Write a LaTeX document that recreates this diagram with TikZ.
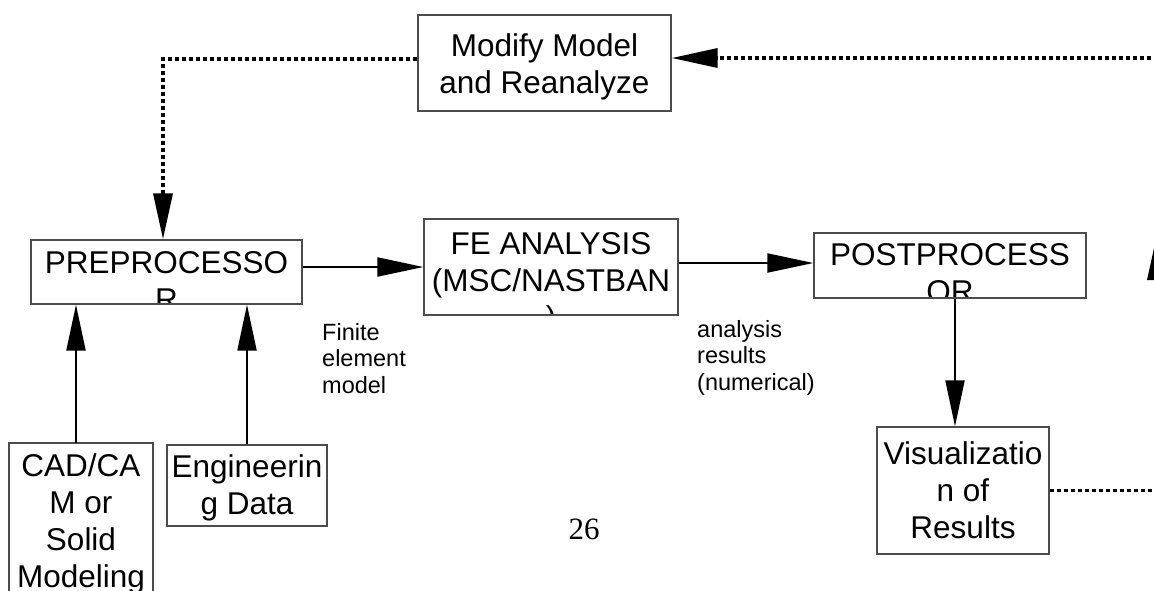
\documentclass[tikz,border=0pt]{standalone}
\usepackage{fontspec}
\setmainfont{Liberation Sans}
\newfontfamily\pagefont{Liberation Serif}
\usetikzlibrary{arrows.meta}

\begin{document}
\begin{tikzpicture}[x=1pt,y=-1pt,
  box/.style={draw=black!70, line width=1.3pt, rectangle, inner sep=0pt, fill=white},
  boxtext/.style={draw=none, fill=none, minimum width=0pt, minimum height=0pt,
    font=\fontsize{31.5}{37}\selectfont, align=center, inner sep=0pt, anchor=north},
  lbl/.style={font=\fontsize{23.5}{26.5}\selectfont, align=left, inner sep=0pt, anchor=north west},
  tip/.style={-{Triangle[length=46pt,width=19pt]}},
  solidarrow/.style={line width=2pt, tip},
  dotline/.style={line width=3.4pt, dash pattern=on 4pt off 3pt},
]
\clip (0,0) rectangle (1154,591);
\fill[white] (0,0) rectangle (1154,591);

% boxes: text is clipped to the frame
\node[box, minimum width=253pt, minimum height=96pt,
  path picture={\node[boxtext] at ([yshift=-18.5pt]path picture bounding box.north) {Modify Model\\and Reanalyze};}]
  (modify) at (544.5,63) {};
\node[box, minimum width=271pt, minimum height=64pt,
  path picture={\node[boxtext] at ([yshift=-11pt]path picture bounding box.north) {PREPROCESSO\\R};}]
  (pre) at (166.5,272) {};
\node[box, minimum width=254pt, minimum height=96pt,
  path picture={\node[boxtext] at ([yshift=-12.5pt]path picture bounding box.north) {FE ANALYSIS\\(MSC/NASTBAN\\)};}]
  (fe) at (551,267) {};
\node[box, minimum width=272pt, minimum height=65pt,
  path picture={\node[boxtext] at ([yshift=-10pt]path picture bounding box.north) {POSTPROCESS\\OR};}]
  (post) at (950,265.5) {};
\node[box, minimum width=144pt, minimum height=172pt,
  path picture={\node[boxtext] at ([yshift=-10.5pt]path picture bounding box.north) {CAD/CA\\M or\\Solid\\Modeling};}]
  (cad) at (81,529) {};
\node[box, minimum width=160pt, minimum height=81pt,
  path picture={\node[boxtext] at ([yshift=-9.5pt]path picture bounding box.north) {Engineerin\\g Data};}]
  (eng) at (247,485.5) {};
\node[box, minimum width=172pt, minimum height=127pt,
  path picture={\node[boxtext] at ([yshift=-14.5pt]path picture bounding box.north) {Visualizatio\\n of\\Results};}]
  (vis) at (963,490.5) {};

% labels
\node[lbl] (fem) at (322,323) {Finite\\element\\model};
\node[lbl] (res) at (697,320) {analysis\\results\\(numerical)};
\node[font=\pagefont\fontsize{31}{31}\selectfont, anchor=base, inner sep=0pt] (pagenum) at (584,539) {26};

% solid flow
\coordinate (cadup) at (76,443);
\draw[solidarrow] (cadup) -- (cadup |- pre.south);
\draw[solidarrow] (eng.north) -- (eng.north |- pre.south);
\draw[solidarrow] (pre.east |- fe.west) -- (fe.west);
\draw[solidarrow] (fe.east |- 0,263) -- (post.west |- 0,263);
\draw[solidarrow] (post.south -| 955,0) -- (vis.north -| 955,0);

% dotted feedback loop
\coordinate (rtop) at (1157,58);
\coordinate (rmid) at (1157,234);
\draw[dotline, tip] (modify.west |- 0,59) -| (pre.north -| 163,0);
\draw[dotline, tip] (vis.east) -| (rmid);
\draw[dotline, tip] (rmid) |- (modify.east |- rtop);
\end{tikzpicture}
\end{document}
